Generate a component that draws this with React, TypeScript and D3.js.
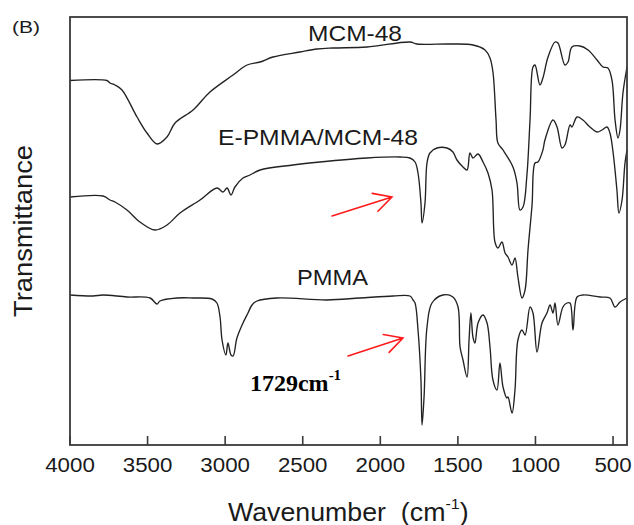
import React from "react";
import * as d3 from "d3";

// ---------- data (wavenumber cm^-1, transmittance a.u. with vertical offsets) ----------
const MCM48: [number, number][] = [
  [4000, 72.9], [3762, 72.9], [3742, 72.4], [3710, 72.0], [3665, 71.0], [3568, 65.6], [3504, 62.4],
  [3439, 60.2], [3375, 61.6], [3323, 64.4], [3207, 67.0], [3098, 70.6], [2949, 74.0], [2859, 76.0],
  [2775, 76.6], [2692, 77.6], [2518, 78.6], [2408, 79.2], [2305, 79.4], [2086, 79.6], [1809, 80.6],
  [1764, 80.2], [1551, 80.2], [1403, 80.0], [1325, 79.0], [1293, 77.4], [1274, 74.6], [1254, 65.0],
  [1242, 60.4], [1209, 59.0], [1145, 55.6], [1119, 52.4], [1100, 47.0], [1080, 47.6], [1055, 54.0],
  [1035, 65.0], [1016, 75.6], [1003, 76.0], [971, 72.0], [952, 73.4], [919, 77.6], [874, 80.6],
  [855, 80.4], [810, 76.0], [790, 76.6], [765, 79.6], [713, 79.8], [661, 79.0], [603, 77.0],
  [565, 75.6], [533, 75.4], [507, 73.0], [487, 65.0], [468, 61.4], [455, 63.0], [436, 70.4], [410, 75.6],
];

const EPMMA_MCM48: [number, number][] = [
  [4000, 49.6], [3787, 49.8], [3742, 49.0], [3710, 48.6], [3633, 47.0], [3549, 44.6], [3452, 43.0],
  [3375, 44.0], [3291, 46.4], [3162, 49.0], [3053, 51.4], [3014, 50.6], [2988, 51.4], [2962, 50.0],
  [2937, 51.6], [2885, 53.4], [2840, 54.0], [2775, 55.0], [2563, 56.0], [2389, 56.6], [2086, 57.4],
  [1873, 57.6], [1809, 57.4], [1776, 56.6], [1757, 54.4], [1738, 48.4], [1731, 44.4], [1712, 48.4],
  [1699, 56.4], [1680, 58.4], [1635, 59.4], [1570, 59.4], [1532, 58.6], [1506, 57.0], [1467, 55.6],
  [1441, 55.0], [1422, 58.4], [1403, 57.4], [1370, 58.2], [1338, 56.6], [1306, 54.4], [1280, 51.0],
  [1261, 40.6], [1242, 39.4], [1216, 40.6], [1196, 38.4], [1177, 37.6], [1151, 36.0], [1132, 37.4],
  [1113, 33.6], [1087, 29.4], [1067, 31.0], [1048, 39.0], [1022, 48.0], [1003, 56.4], [984, 56.6],
  [952, 59.0], [939, 61.0], [887, 65.0], [861, 63.6], [829, 59.4], [810, 60.0], [777, 64.0],
  [765, 63.6], [732, 65.6], [694, 65.0], [649, 63.6], [603, 62.6], [571, 63.0], [539, 63.6],
  [520, 62.4], [500, 58.6], [475, 51.0], [462, 46.4], [442, 49.0], [423, 56.4], [410, 59.0],
];

const PMMA: [number, number][] = [
  [4000, 30.0], [3852, 29.8], [3787, 30.0], [3633, 29.6], [3484, 29.4], [3439, 28.2], [3420, 28.8],
  [3310, 29.4], [3207, 29.4], [3085, 29.2], [3053, 28.4], [3033, 25.6], [3020, 21.0], [2995, 18.0],
  [2982, 20.4], [2962, 18.0], [2949, 17.8], [2924, 21.4], [2885, 24.4], [2853, 26.4], [2827, 28.0],
  [2795, 28.8], [2666, 29.4], [2344, 29.0], [2131, 29.4], [1918, 29.8], [1809, 29.8], [1789, 29.0],
  [1776, 28.4], [1757, 23.0], [1738, 13.0], [1731, 4.0], [1718, 9.6], [1699, 23.6], [1667, 28.4],
  [1596, 30.0], [1532, 29.6], [1499, 27.6], [1486, 19.6], [1467, 17.0], [1441, 13.6], [1428, 21.0],
  [1416, 26.4], [1403, 21.6], [1390, 20.4], [1370, 24.4], [1338, 26.0], [1312, 24.4], [1293, 19.6],
  [1274, 13.0], [1248, 11.0], [1229, 16.4], [1209, 11.6], [1184, 9.4], [1177, 9.6], [1151, 6.4],
  [1132, 11.0], [1113, 21.0], [1087, 23.0], [1067, 22.0], [1035, 27.6], [1016, 26.4], [990, 18.6],
  [958, 24.4], [926, 26.4], [906, 28.0], [887, 26.4], [874, 28.4], [855, 24.0], [823, 27.6],
  [797, 28.4], [777, 28.4], [758, 23.0], [732, 29.6], [694, 30.0], [584, 29.6], [520, 29.4],
  [487, 27.6], [455, 28.6], [410, 29.4],
];

const xTicks = [4000, 3500, 3000, 2500, 2000, 1500, 1000, 500];

// curve labels: text, wavenumber of left edge, baseline value, rendered width
const curveLabels = [
  { text: "MCM-48", w: 2466, v: 80.9, len: 94 },
  { text: "E-PMMA/MCM-48", w: 3046, v: 60.0, len: 200 },
  { text: "PMMA", w: 2537, v: 32.0, len: 71 },
];

// red arrows: start -> tip
const arrows = [
  { w0: 2311, v0: 45.8, w1: 1925, v1: 49.6 },
  { w0: 2208, v0: 17.8, w1: 1854, v1: 21.4 },
];

const peakLabel = { main: "1729cm", sup: "-1", w: 2840, v: 10.8 };

// ---------- layout ----------
const W = 634;
const H = 525;
const left = 70, right = 627, top = 17, bottom = 445;

export default function App() {
  const x = d3.scaleLinear().domain([4000, 410]).range([left, right]);
  const y = d3.scaleLinear().domain([0, 85.6]).range([bottom, top]);
  const line = d3
    .line<[number, number]>()
    .x((d) => x(d[0]))
    .y((d) => y(d[1]))
    .curve(d3.curveCatmullRom.alpha(0.5));

  const sans = "'Liberation Sans', Arial, Helvetica, sans-serif";
  const serif = "'Liberation Serif', 'Times New Roman', serif";
  const ink = "#1a1a1a";

  const arrowPaths = arrows.map((a) => {
    const x0 = x(a.w0), y0 = y(a.v0), x1 = x(a.w1), y1 = y(a.v1);
    const ang = Math.atan2(y0 - y1, x0 - x1);
    const L = 20, spread = (28 * Math.PI) / 180;
    const p1 = [x1 + L * Math.cos(ang + spread), y1 + L * Math.sin(ang + spread)];
    const p2 = [x1 + L * Math.cos(ang - spread), y1 + L * Math.sin(ang - spread)];
    return `M${x0},${y0}L${x1},${y1}M${p1[0]},${p1[1]}L${x1},${y1}L${p2[0]},${p2[1]}`;
  });

  return (
    <svg
      width={W}
      height={H}
      viewBox={`0 0 ${W} ${H}`}
      style={{ position: "absolute", left: 0, top: 0, background: "#fff" }}
    >
      <rect x={0} y={0} width={W} height={H} fill="#fff" />
      {/* spectra */}
      {[MCM48, EPMMA_MCM48, PMMA].map((s, i) => (
        <path key={i} d={line(s) || ""} fill="none" stroke="#222" strokeWidth={1.35} strokeLinejoin="round" />
      ))}
      {/* frame */}
      <rect x={left} y={top} width={right - left} height={bottom - top} fill="none" stroke="#3a3a3a" strokeWidth={1.8} />
      {/* ticks */}
      {xTicks.map((t) => (
        <g key={t}>
          <line x1={x(t)} x2={x(t)} y1={bottom} y2={bottom - 9} stroke="#3a3a3a" strokeWidth={1.6} />
          <text
            x={x(t)}
            y={472}
            textAnchor="middle"
            fontFamily={sans}
            fontSize={20}
            fill={ink}
            textLength={String(t).length * 12.4}
            lengthAdjust="spacingAndGlyphs"
          >
            {t}
          </text>
        </g>
      ))}
      {/* axis titles */}
      <g transform="translate(228,521) scale(1.07,1)">
        <text x={0} y={0} fontFamily={sans} fontSize={25} fill={ink}>
          Wavenumber{"\u00a0\u00a0"}(cm
          <tspan fontSize={15} dy={-12}>-1</tspan>
          <tspan dy={12}>)</tspan>
        </text>
      </g>
      <text
        transform={`translate(32,231) rotate(-90)`}
        textAnchor="middle"
        fontFamily={sans}
        fontSize={26}
        fill={ink}
        textLength={172}
        lengthAdjust="spacingAndGlyphs"
      >
        Transmittance
      </text>
      <text x={12} y={33} fontFamily={sans} fontSize={17} fill={ink} textLength={28} lengthAdjust="spacingAndGlyphs">
        (B)
      </text>
      {/* curve labels */}
      {curveLabels.map((l) => (
        <text
          key={l.text}
          x={x(l.w)}
          y={y(l.v)}
          fontFamily={sans}
          fontSize={22}
          fill={ink}
          textLength={l.len}
          lengthAdjust="spacingAndGlyphs"
        >
          {l.text}
        </text>
      ))}
      {/* arrows */}
      {arrowPaths.map((d, i) => (
        <path key={i} d={d} fill="none" stroke="#ff1a1a" strokeWidth={1.6} strokeLinecap="round" />
      ))}
      {/* peak label */}
      <text x={x(peakLabel.w)} y={y(peakLabel.v)} fontFamily={serif} fontWeight="bold" fontSize={24} fill="#000">
        {peakLabel.main}
        <tspan fontSize={15} dy={-11}>{peakLabel.sup}</tspan>
      </text>
    </svg>
  );
}
